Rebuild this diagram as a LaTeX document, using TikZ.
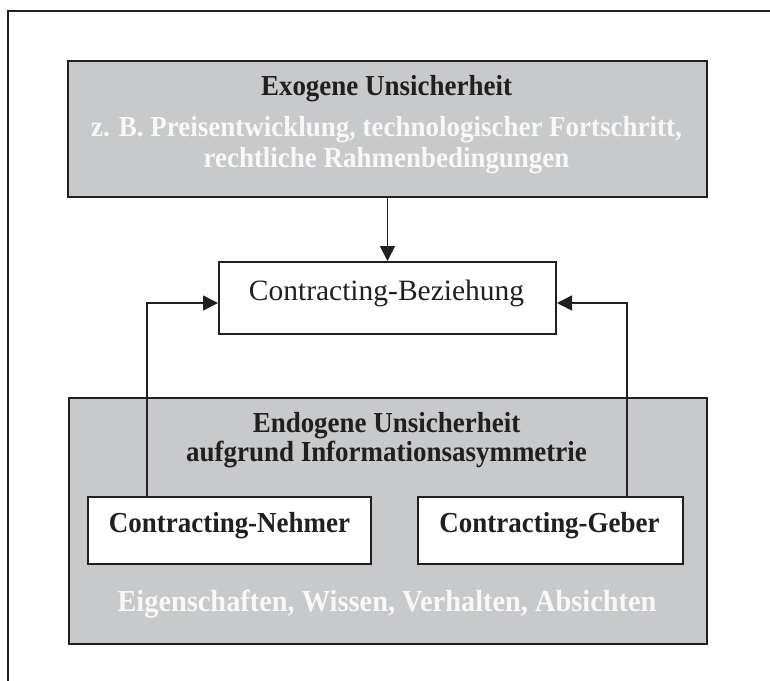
\documentclass[tikz,border=0pt]{standalone}
\usepackage{fontspec}
\setmainfont{Liberation Serif}
\newfontfamily\narrowserif[FakeStretch=0.93]{Liberation Serif}
\usetikzlibrary{arrows.meta}
\definecolor{ink}{HTML}{231F20}
\definecolor{panel}{HTML}{C8C9CB}
\definecolor{paletext}{HTML}{F8F8F8}
\begin{document}
\begin{tikzpicture}[x=1pt,y=-1pt,
  panelbox/.style={draw=ink,line width=2pt,fill=panel,inner sep=0pt,anchor=north west},
  whitebox/.style={draw=ink,line width=2pt,fill=white,inner sep=0pt,anchor=north west},
  boldtext/.style={font=\narrowserif\fontsize{29}{33}\selectfont\bfseries,text=ink,anchor=base,inner sep=0pt},
  paletxt/.style={font=\narrowserif\fontsize{29}{33}\selectfont\bfseries,text=paletext,anchor=base,inner sep=0pt},
  plaintext/.style={font=\fontsize{29.5}{33}\selectfont,text=ink,anchor=base,inner sep=0pt},
  link/.style={draw=ink,line width=1.6pt,-{Triangle[length=15pt,width=15pt]}}]
\useasboundingbox (0,0) rectangle (770,680);
% outer frame (runs past the page on the right and bottom)
\draw[ink,line width=2pt] (8,11) rectangle (800,700);

% exogenous uncertainty panel
\node[panelbox,minimum width=639pt,minimum height=136pt] (exo) at (67,60) {};
\node[boldtext] (exoT) at (386.5,95) {Exogene Unsicherheit};
\node[paletxt] (exoA) at (386.5,136) {z. B. Preisentwicklung, technologischer Fortschritt,};
\node[paletxt] (exoB) at (386.5,167) {rechtliche Rahmenbedingungen};

% contracting relation
\node[whitebox,minimum width=337pt,minimum height=72pt] (bez) at (218,261) {};
\node[plaintext] (bezT) at (386.5,300) {Contracting-Beziehung};

% endogenous uncertainty panel
\node[panelbox,minimum width=638pt,minimum height=246pt] (endo) at (68,397) {};
\node[boldtext] (endoT) at (386.5,432) {Endogene Unsicherheit};
\node[boldtext] (endoA) at (386.5,461) {aufgrund Informationsasymmetrie};
\node[whitebox,minimum width=283pt,minimum height=67pt] (neh) at (87,496) {};
\node[boldtext] (nehT) at (229.5,532) {Contracting-Nehmer};
\node[whitebox,minimum width=265pt,minimum height=67pt] (geb) at (417,496) {};
\node[boldtext] (gebT) at (549.5,532) {Contracting-Geber};
\node[paletxt,font=\narrowserif\fontsize{30.5}{33}\selectfont\bfseries] (endoB) at (387,611) {Eigenschaften, Wissen, Verhalten, Absichten};

% connectors
\coordinate (ly) at (0,303);
\coordinate (lx) at (147,0);
\coordinate (rx) at (627,0);
\draw[link] (exo.south) -- (bez.north);
\draw[link] (neh.north -| lx) |- (bez.west |- ly);
\draw[link] (geb.north -| rx) |- (bez.east |- ly);
\end{tikzpicture}
\end{document}
